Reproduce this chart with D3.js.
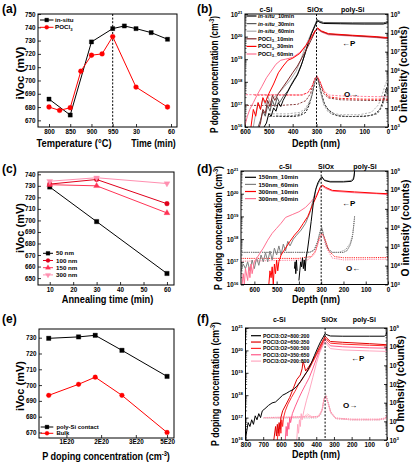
<!DOCTYPE html>
<html><head><meta charset="utf-8">
<script src="https://cdn.jsdelivr.net/npm/d3@7"></script>
<style>
body{margin:0;background:#fff;}
svg{display:block;font-family:"Liberation Sans",Arial,sans-serif;font-weight:bold;}
</style></head><body>
<svg id="c" width="412" height="462"></svg>
<script>
// ---------------- DATA ----------------
// (a)
const aTempTicks = [800, 850, 900, 950];
const aTimeTicks = [30, 60];
const aYTicks = [670, 680, 690, 700, 710, 720, 730, 740, 750];
const aInsituTemps = [800, 850, 900, 950];
const aInsituTempVals = [686, 674, 729, 739];
const aInsituTimes = [20, 30, 43, 57];
const aInsituTimeVals = [741, 739, 736, 731];
const aPoclTemps = [800, 825, 850, 875, 900, 925, 950];
const aPoclTempVals = [680, 677.5, 679.5, 707, 719, 720, 733];
const aPoclTimes = [30, 57];
const aPoclTimeVals = [695, 680];

// (c)
const cTimes = [10, 30, 60];
const cXTicks = [10, 20, 30, 40, 50, 60];
const cYTicks = [650, 660, 670, 680, 690, 700, 710, 720, 730, 740];
const c50 = [729, 699, 654];
const c100 = [731.5, 735.5, 714.5];
const c150 = [731, 730, 706.5];
const c300 = [734, 737, 732];
const cNames = ["50 nm", "100 nm", "150 nm", "300 nm"];

// (e)
const eConc = [0.49e20, 1.35e20, 1.83e20, 2.6e20, 3.9e20];
const ePoly = [729.6, 730.5, 731.5, 722, 705.5];
const eBulk = [693.5, 700.5, 705, 693.5, 670];
const eTickVals = [1e20, 2e20, 3e20, 3.9e20];
const eTickLabels = ["1E20", "2E20", "3E20", "5E20"];
const eYTicks = [670, 680, 690, 700, 710, 720, 730];

// SIMS axes
const pDecades = [1e16, 1e17, 1e18, 1e19, 1e20, 1e21];
const oDecades = [1e3, 1e4, 1e5, 1e6, 1e7, 1e8, 1e9];
const bDepthTicks = [600, 500, 400, 300, 200, 100, 0];
const dDepthTicks = [600, 500, 400, 300, 200, 100, 0];
const fDepthTicks = [800, 700, 600, 500, 400, 300, 200, 100, 0];

// (b) P profiles [depth nm, conc cm-3]
const bInsitu10 = [[0,4.6e20],[5,4e20],[20,3.6e20],[100,3.6e20],[200,3.7e20],[270,3.8e20],[285,4.2e20],[295,5e20],[305,3.2e20],[320,1.4e20],[335,5e19],[350,1.5e19],[365,5e18],[380,2e18],[395,1.1e18],[410,6e17],[425,3e17],[440,1.5e17],[450,8e16],[460,1.2e17],[470,5e16],[480,7e16],[490,3e16],[500,4e16],[510,1.5e16],[520,1e16]];
const bInsitu30 = [[0,5.2e20],[5,4.4e20],[20,4.1e20],[150,4.1e20],[270,4.2e20],[290,5e20],[297,5.8e20],[305,3.6e20],[320,1.5e20],[340,3.5e19],[360,7e18],[380,2.2e18],[400,1e18],[420,4e17],[440,2.2e17],[455,1.2e17],[465,2e17],[475,8e16],[485,1.5e17],[495,5e16],[505,9e16],[515,3e16],[525,5e16],[535,2e16],[545,1e16]];
const bInsitu60 = [[0,4.5e20],[10,3.7e20],[150,3.7e20],[270,3.9e20],[290,4.6e20],[298,5.2e20],[307,3e20],[325,1.2e20],[345,4e19],[365,1e19],[385,3e18],[410,1.2e18],[435,6e17],[460,3e17],[480,2e17],[495,1.2e17],[505,2.5e17],[515,1e17],[525,1.8e17],[535,6e16],[545,1.2e17],[555,4e16],[565,1e16]];
const bPocl10 = [[0,8.5e19],[50,9.5e19],[150,1.1e20],[250,1.3e20],[280,1.7e20],[295,2.3e20],[305,1.8e20],[320,8e19],[340,3e19],[360,1.2e19],[380,5e18],[400,2.5e18],[420,1.2e18],[440,6e17],[460,3e17],[475,1.5e17],[485,2.5e17],[495,8e16],[505,1.5e17],[515,4e16],[525,6e16],[535,1.5e16],[540,1e16]];
const bPocl30 = [[0,9e19],[50,1e20],[150,1.15e20],[250,1.35e20],[280,1.8e20],[295,2.4e20],[305,1.9e20],[320,1e20],[345,4e19],[370,1.8e19],[400,1.1e19],[420,9e18],[440,5e18],[460,2.5e18],[480,8e17],[500,3e17],[515,1.2e17],[525,2e17],[535,6e16],[545,1.2e17],[555,3e16],[565,6e16],[575,1e16]];
const bPocl60 = [[0,8e19],[50,9e19],[150,1.05e20],[250,1.2e20],[280,1.6e20],[295,2.1e20],[305,1.7e20],[320,9e19],[345,4e19],[370,2e19],[400,1.2e19],[430,1e19],[450,9e18],[470,6e18],[490,3e18],[510,1.5e18],[530,6e17],[550,2.5e17],[565,1.2e17],[580,6e16],[590,3e16],[600,1.2e16]];
// (b) O profiles [depth nm, counts]
const bOInsitu10 = [[0,2e5],[10,8e4],[20,2.5e4],[35,8e3],[60,4.5e3],[100,3.6e3],[180,3.6e3],[215,4e3],[235,6e3],[250,8e3],[265,1.5e4],[280,6e4],[292,3e5],[298,4.5e5],[305,3e5],[315,8e4],[330,1.5e4],[345,6e3],[370,4e3],[400,3.6e3],[440,3.6e3],[470,3.8e3]];
const bOInsitu30 = [[0,1.2e5],[10,5e4],[25,1.2e4],[45,5e3],[80,4e3],[150,3.6e3],[200,3.8e3],[240,5e3],[270,2e4],[285,1.2e5],[295,4e5],[300,4.8e5],[308,2.5e5],[320,4e4],[340,1e4],[365,5e3],[400,4e3],[450,3.8e3],[500,3.6e3]];
const bOInsitu60 = [[0,4e5],[10,2e5],[25,5e4],[40,1.5e4],[70,6e3],[120,4.5e3],[200,4.5e3],[250,6e3],[270,1.5e4],[285,8e4],[295,3e5],[300,4e5],[310,2e5],[325,3e4],[345,1e4],[370,6e3],[420,5e3],[500,5e3]];
const bOPocl10 = [[0,2.5e4],[100,2.6e4],[200,2.8e4],[250,3.5e4],[270,6e4],[285,2e5],[295,4e5],[302,4.8e5],[310,3e5],[325,6e4],[345,2.5e4],[380,1.6e4],[450,1.4e4],[600,1.4e4]];
const bOPocl30 = [[0,3e4],[100,3e4],[200,3.3e4],[250,4e4],[270,8e4],[285,2.5e5],[297,5e5],[305,4e5],[318,1.5e5],[335,7e4],[360,5e4],[450,5e4],[560,5e4]];
const bOPocl60 = [[0,4e4],[100,4.2e4],[200,4.5e4],[250,5e4],[270,9e4],[285,2.5e5],[297,5.2e5],[306,4e5],[320,1.3e5],[340,6e4],[370,5e4],[480,5.2e4],[600,5.2e4]];

// (d) P profiles
const d150s10 = [[150,1e21],[152,6e20],[155,4.2e20],[165,3.5e20],[200,3.3e20],[260,3.3e20],[285,3.8e20],[297,5.6e20],[305,4.5e20],[315,3e20],[325,1.5e20],[335,4e19],[345,6e18],[355,1e18],[362,3e17],[368,1.5e17],[372,4e16],[376,1.2e17],[380,5e16],[384,1.5e17],[388,6e16],[392,1e17],[396,4e16],[400,1.5e16],[404,null],[408,4e16],[411,1.2e17],[414,3e16],[417,1e17],[420,5e16]];
const d150s60 = [[150,1e21],[153,6e20],[158,4.3e20],[170,3.7e20],[200,3.5e20],[260,3.5e20],[285,4e20],[297,5.2e20],[305,4e20],[320,2e20],[335,6e19],[350,1.5e19],[370,5e18],[390,2.5e18],[410,1.5e18],[425,1e18],[440,5e17],[450,8e17],[460,3e17],[470,6e17],[480,2e17],[490,5e17],[500,2e17],[510,4e17],[520,1.2e17],[530,3e17],[540,1e17],[550,2.5e17],[560,1e17],[570,2e17],[580,7e16],[590,1.5e17],[600,5e16],[610,1.2e17],[620,4e16],[630,1e17],[640,5e16],[650,8e16],[660,4e16]];
const d300s10 = [[0,1e20],[50,1.05e20],[150,1.2e20],[250,1.4e20],[280,1.9e20],[295,2.4e20],[305,1.9e20],[320,8e19],[340,3e19],[360,1e19],[380,5e18],[400,2.5e18],[420,1.5e18],[440,8e17],[460,4e17],[480,2e17],[490,1e17],[495,4e16],[500,1.2e17],[505,3e16],[510,8e16],[515,1e16],[520,6e16],[525,2e16],[530,4e16],[535,1e16]];
const d300s60 = [[0,9e19],[50,1e20],[150,1.1e20],[250,1.3e20],[280,1.7e20],[295,2.2e20],[305,1.7e20],[320,9e19],[345,4.5e19],[370,2.5e19],[400,1.6e19],[430,1.2e19],[460,9e18],[480,5e18],[500,3e18],[520,1.8e18],[540,9e17],[560,4e17],[580,2e17],[600,1e17],[610,3e16],[615,8e16],[620,2e16],[625,6e16],[630,1.5e16],[640,5e16],[645,1e16],[650,3e16],[655,1e16]];
// (d) O profiles
const dO150s10 = [[150,4e6],[155,1e6],[160,3e5],[170,1.2e5],[185,6e4],[200,5e4],[250,5e4],[270,8e4],[285,2.5e5],[297,9e5],[305,6e5],[315,2e5],[330,7e4],[350,5e4],[660,5e4]];
const dO150s60 = [[150,3e6],[158,5e5],[170,1.5e5],[190,7e4],[220,5e4],[260,5e4],[280,1.2e5],[292,6e5],[298,1.1e6],[306,6e5],[318,1.5e5],[335,6e4],[360,5e4],[660,5e4]];
const dO300s10 = [[0,2.7e4],[100,2.6e4],[200,2.6e4],[240,3e4],[265,6e4],[285,3e5],[297,5e5],[308,3e5],[325,6e4],[345,3e4],[400,2.4e4],[660,2.4e4]];
const dO300s60 = [[0,2.2e4],[200,2e4],[250,2.5e4],[275,8e4],[290,3.5e5],[298,4.5e5],[310,2e5],[330,4e4],[360,2e4],[660,1.7e4]];

// (f) P profiles
const f800 = [[0,7e20],[5,5e20],[15,4.3e20],[100,4.3e20],[250,4.3e20],[320,4.4e20],[340,5e20],[350,5.6e20],[360,4e20],[375,2.5e20],[390,1.4e20],[410,6e19],[430,2.5e19],[450,1.2e19],[470,7e18],[490,4e18],[510,2.5e18],[530,1.8e18],[550,1.5e18],[570,1.2e18],[590,1e18],[610,7e17],[630,5e17],[650,4.5e17],[670,3.5e17],[690,2.5e17],[705,2e17],[715,1e17],[725,1.5e17],[735,8e16],[745,1.2e17],[755,5e16],[765,8e16],[775,4e16],[785,6e16],[795,2e16],[800,1e16]];
const f650 = [[0,2e20],[5,1.8e20],[100,2e20],[250,2.3e20],[320,2.5e20],[340,3.5e20],[350,4.3e20],[360,3e20],[380,1.5e20],[400,7e19],[420,3.5e19],[440,2e19],[460,1.2e19],[470,2.5e19],[475,3e19],[480,1.5e19],[490,8e18],[510,5e18],[530,2e18],[550,8e17],[570,4e17],[590,2e17],[600,1e17],[605,3e16],[610,6e16],[615,2e16],[620,5e16],[625,1.5e16],[630,4e16],[640,1e16]];
const f500 = [[0,1.6e20],[100,1.7e20],[250,1.9e20],[320,2.1e20],[340,3e20],[350,3.6e20],[360,2.6e20],[380,1.2e20],[400,6e19],[420,3e19],[440,1.5e19],[460,9e18],[480,5e18],[500,3e18],[520,1.5e18],[540,8e17],[560,4e17],[575,2e17],[585,1e17],[590,4e16],[595,8e16],[600,2e16],[605,5e16],[610,1.5e16],[615,3e16],[620,1e16]];
const f350 = [[0,1.25e20],[100,1.3e20],[250,1.45e20],[320,1.6e20],[340,2.4e20],[350,3e20],[360,2.2e20],[380,1e20],[400,4e19],[420,1.5e19],[440,6e18],[460,3e18],[480,1.5e18],[500,7e17],[520,3e17],[535,1.5e17],[545,6e16],[550,1e17],[555,3e16],[560,6e16],[565,1.5e16],[570,4e16],[575,1e16]];
const f200 = [[0,9e19],[100,9.5e19],[250,1.05e20],[320,1.2e20],[340,1.9e20],[350,2.4e20],[360,1.8e20],[380,8e19],[400,2.5e19],[420,6e18],[440,1.5e18],[455,6e17],[470,2e17],[480,8e16],[485,1.5e17],[490,4e16],[495,8e16],[500,2e16],[505,5e16],[510,1e16]];
// (f) O profiles
const fO800 = [[0,2e4],[10,1.4e4],[40,1.2e4],[200,1.2e4],[290,1.4e4],[315,2.5e4],[330,8e4],[343,2.6e5],[352,2.2e5],[362,6e4],[375,2.2e4],[400,1.5e4],[700,1.5e4]];
const fO650 = [[0,2.2e4],[10,1.5e4],[40,1.3e4],[200,1.3e4],[290,1.5e4],[318,3e4],[332,1e5],[345,2.3e5],[355,1.8e5],[365,5e4],[380,2e4],[420,1.7e4],[450,2.5e4],[470,1.8e4],[600,1.5e4],[700,1.5e4]];
const fO500 = [[0,1.8e4],[10,1.3e4],[50,1.2e4],[200,1.2e4],[290,1.4e4],[318,3e4],[333,1e5],[346,2.4e5],[356,1.6e5],[366,4e4],[385,1.8e4],[430,1.6e4],[445,2.2e4],[465,1.7e4],[650,1.6e4]];
const fO350 = [[0,2.1e4],[10,1.5e4],[50,1.3e4],[200,1.3e4],[290,1.5e4],[320,3.5e4],[335,1.1e5],[347,2.2e5],[357,1.5e5],[368,4e4],[390,1.8e4],[700,1.6e4]];
const fO200 = [[0,1.9e4],[10,1.4e4],[50,1.2e4],[200,1.2e4],[290,1.4e4],[320,3e4],[335,1e5],[347,2e5],[357,1.4e5],[368,3.5e4],[390,1.7e4],[640,1.6e4]];

// ---------------- DRAW ----------------
const svg = d3.select("#c");
const FONT = '"Liberation Sans", Arial, sans-serif';
const TICKFS = 6.3, TITLEFS = 10.3;

function styleAxis(sel){
  sel.select(".domain").remove();
  sel.selectAll(".tick line").attr("stroke","#000").attr("stroke-width",0.8);
  sel.selectAll(".tick text").attr("font-size",TICKFS).attr("font-family",FONT).attr("font-weight","bold").attr("fill","#000");
}
function frame(L,R,T,B){
  svg.append("rect").attr("x",L).attr("y",T).attr("width",R-L).attr("height",B-T)
    .attr("fill","none").attr("stroke","#000").attr("stroke-width",1);
}
function text(x,y,s,fs,anchor,rot){
  const t = svg.append("text").attr("x",x).attr("y",y).attr("font-size",fs).attr("text-anchor",anchor||"start").attr("fill","#000").text(s);
  if(rot) t.attr("transform",`rotate(${rot},${x},${y})`);
  return t;
}
// title text horizontally condensed to a target length (via transform, stays real text)
function title(x,y,s,rot,len,supText,tail){
  const g = svg.append("g").attr("transform",`translate(${x},${y}) rotate(${rot||0})`);
  const t = g.append("text").attr("x",0).attr("y",0).attr("font-size",TITLEFS).attr("text-anchor","middle").attr("fill","#000");
  t.append("tspan").text(s);
  if(supText){
    t.append("tspan").attr("dy",-3.2).attr("font-size",6.5).text(supText);
    t.append("tspan").attr("dy",3.2).text(tail);
  }
  const w = t.node().getComputedTextLength();
  if(len && w>0) t.attr("transform",`scale(${len/w},1)`);
  return t;
}
function supLabels(sel){
  sel.selectAll(".tick text").each(function(d){
    const t = d3.select(this); t.text(null);
    t.append("tspan").text("10");
    t.append("tspan").attr("dy",-2.4).attr("font-size",4.3).text(Math.round(Math.log10(d)));
  });
}
function marker(g, shape, x, y, color, size){
  const s = size||4.4;
  let sym = {sq:d3.symbolSquare, ci:d3.symbolCircle, tu:d3.symbolTriangle, td:d3.symbolTriangle}[shape];
  const area = shape==="ci" ? Math.PI*(s/2)*(s/2)*1.15 : (shape==="sq" ? s*s : s*s*0.8);
  g.append("path").attr("d", d3.symbol().type(sym).size(area)())
    .attr("transform",`translate(${x},${y})${shape==="td"?" rotate(180)":""}`)
    .attr("fill",color).attr("stroke",color).attr("stroke-width",0.3);
}
function yTitleMV(x, yc, len){ title(x, yc, "iVoc (mV)", -90, len); }
function panelLabel(x,y,s){ text(x,y,s,12,"start"); }
function minorLog(g, scale, decades, xEdge, dir){
  decades.slice(0,-1).forEach(d=>{
    for(let k=2;k<=9;k++){
      const v=d*k, y=scale(v);
      g.append("line").attr("x1",xEdge).attr("x2",xEdge+dir*1.6).attr("y1",y).attr("y2",y).attr("stroke","#000").attr("stroke-width",0.6);
    }
  });
}
function concTitle(x,y,rot,len){ return title(x,y,"P doping concentration (cm",rot,len,"-3",")"); }

// ===== (a) =====
{
  const L=38,R=177,T=14,B=127;
  const xT = d3.scaleLinear().domain([800,950]).range([49,112.7]);
  const xM = d3.scaleLinear().domain([10,60]).range([xT(950),171]);
  const y = d3.scaleLinear().domain([665,750]).range([B,T]);
  const g = svg.append("g");
  styleAxis(g.append("g").attr("transform",`translate(${L},0)`).call(d3.axisLeft(y).tickValues(aYTicks).tickSizeInner(-3).tickSizeOuter(0).tickPadding(2.5)));
  styleAxis(g.append("g").attr("transform",`translate(0,${B})`).call(d3.axisBottom(xT).tickValues(aTempTicks).tickSizeInner(-3).tickSizeOuter(0).tickPadding(3)));
  styleAxis(g.append("g").attr("transform",`translate(0,${B})`).call(d3.axisBottom(xM).tickValues(aTimeTicks).tickSizeInner(-3).tickSizeOuter(0).tickPadding(3)));
  frame(L,R,T,B);
  g.append("line").attr("x1",xT(950)).attr("x2",xT(950)).attr("y1",T).attr("y2",B).attr("stroke","#000").attr("stroke-dasharray","2,1.6").attr("stroke-width",1);
  const ins = aInsituTemps.map((t,i)=>[xT(t), y(aInsituTempVals[i])]).concat(aInsituTimes.map((t,i)=>[xM(t), y(aInsituTimeVals[i])]));
  const poc = aPoclTemps.map((t,i)=>[xT(t), y(aPoclTempVals[i])]).concat(aPoclTimes.map((t,i)=>[xM(t), y(aPoclTimeVals[i])]));
  const line = d3.line();
  g.append("path").attr("d",line(ins)).attr("fill","none").attr("stroke","#000").attr("stroke-width",1);
  g.append("path").attr("d",line(poc)).attr("fill","none").attr("stroke","#ff0000").attr("stroke-width",1);
  ins.forEach(p=>marker(g,"sq",p[0],p[1],"#000",4.2));
  poc.forEach(p=>marker(g,"ci",p[0],p[1],"#ff0000",4.6));
  [["in-situ","#000","sq"],["POCl","#ff0000","ci"]].forEach((e,i)=>{
    const ly = 20 + i*7.3;
    g.append("line").attr("x1",40).attr("x2",53.5).attr("y1",ly).attr("y2",ly).attr("stroke",e[1]).attr("stroke-width",1);
    marker(g,e[2],46.7,ly,e[1],3.8);
    const t = text(55,ly,"",6.2).attr("dy","0.35em");
    t.append("tspan").text(e[0]);
    if(i===1) t.append("tspan").attr("font-size",4.2).attr("dy",1.5).text("3");
  });
  title(74,146.5,"Temperature (°C)",0,75);
  title(153.5,146.5,"Time (min)",0,44.5);
  yTitleMV(23.5,73,53);
  panelLabel(2,12.5,"(a)");
}

// ===== (c) =====
{
  const L=38,R=174,T=172,B=285;
  const x = d3.scaleLinear().domain([5,63]).range([L,R]);
  const y = d3.scaleLinear().domain([644,742]).range([B,T]);
  const g = svg.append("g");
  styleAxis(g.append("g").attr("transform",`translate(${L},0)`).call(d3.axisLeft(y).tickValues(cYTicks).tickSizeInner(-3).tickSizeOuter(0).tickPadding(2.5)));
  styleAxis(g.append("g").attr("transform",`translate(0,${B})`).call(d3.axisBottom(x).tickValues(cXTicks).tickSizeInner(-3).tickSizeOuter(0).tickPadding(3)));
  frame(L,R,T,B);
  const series = [[c50,"#000","sq"],[c100,"#e0001b","ci"],[c150,"#ff3355","tu"],[c300,"#ff8fb0","td"]];
  const line = d3.line().x((d,i)=>x(cTimes[i])).y(d=>y(d));
  series.forEach(s=>{
    g.append("path").attr("d",line(s[0])).attr("fill","none").attr("stroke",s[1]).attr("stroke-width",1);
    s[0].forEach((v,i)=>marker(g,s[2],x(cTimes[i]),y(v),s[1],4.4));
  });
  series.forEach((s,i)=>{
    const ly = 253.3 + i*7.2;
    g.append("line").attr("x1",43).attr("x2",53).attr("y1",ly).attr("y2",ly).attr("stroke",s[1]).attr("stroke-width",1);
    marker(g,s[2],48,ly,s[1],3.8);
    text(56,ly,cNames[i],6.2).attr("dy","0.35em");
  });
  title(107.5,302.5,"Annealing time (min)",0,91.5);
  yTitleMV(23.5,228,50);
  panelLabel(2,172.5,"(c)");
}

// ===== (e) =====
{
  const L=39,R=174,T=329,B=438;
  const x = d3.scaleLinear().domain([0.21e20,4.1e20]).range([L,R]);
  const y = d3.scaleLinear().domain([666.5,735.5]).range([B,T]);
  const g = svg.append("g");
  styleAxis(g.append("g").attr("transform",`translate(${L},0)`).call(d3.axisLeft(y).tickValues(eYTicks).tickSizeInner(-3).tickSizeOuter(0).tickPadding(2.5)));
  styleAxis(g.append("g").attr("transform",`translate(0,${B})`).call(d3.axisBottom(x).tickValues(eTickVals).tickFormat((d,i)=>eTickLabels[i]).tickSizeInner(-3).tickSizeOuter(0).tickPadding(2)));
  frame(L,R,T,B);
  const line = d3.line().x((d,i)=>x(eConc[i])).y(d=>y(d));
  [[ePoly,"#000","sq"],[eBulk,"#ff0000","ci"]].forEach(s=>{
    g.append("path").attr("d",line(s[0])).attr("fill","none").attr("stroke",s[1]).attr("stroke-width",1);
    s[0].forEach((v,i)=>marker(g,s[2],x(eConc[i]),y(v),s[1],4.4));
  });
  [["poly-Si contact","#000","sq"],["Bulk","#ff0000","ci"]].forEach((s,i)=>{
    const ly = 427 + i*6.3;
    g.append("line").attr("x1",40.7).attr("x2",53.3).attr("y1",ly).attr("y2",ly).attr("stroke",s[1]).attr("stroke-width",1);
    marker(g,s[2],47,ly,s[1],3.8);
    text(56.5,ly,s[0],5.9).attr("dy","0.35em");
  });
  concTitle(106,459.5,0,128);
  yTitleMV(23.5,386,50);
  panelLabel(2,322.5,"(e)");
}

// ===== SIMS panels =====
function sims(cfg){
  const {L,R,T,B,dmax,ticks,id} = cfg;
  const x = d3.scaleLinear().domain([dmax,0]).range([L,R]);
  const y = d3.scaleLog().domain([1e16,1e21]).range([B,T]);
  const yr = d3.scaleLog().domain([1e3,1e9]).range([B,T]);
  const g = svg.append("g");
  const ayl = g.append("g").attr("transform",`translate(${L},0)`).call(d3.axisLeft(y).tickValues(pDecades).tickSizeInner(-3).tickSizeOuter(0).tickPadding(2.5));
  styleAxis(ayl); supLabels(ayl);
  const ayr = g.append("g").attr("transform",`translate(${R},0)`).call(d3.axisRight(yr).tickValues(oDecades).tickSizeInner(-3).tickSizeOuter(0).tickPadding(2.5));
  styleAxis(ayr); supLabels(ayr);
  minorLog(g,y,pDecades,L,1);
  minorLog(g,yr,oDecades,R,-1);
  styleAxis(g.append("g").attr("transform",`translate(0,${B})`).call(d3.axisBottom(x).tickValues(ticks).tickSizeInner(-3).tickSizeOuter(0).tickPadding(3)));
  svg.append("clipPath").attr("id","clip"+id).append("rect").attr("x",L).attr("y",T).attr("width",R-L).attr("height",B-T);
  const pl = g.append("g").attr("clip-path",`url(#clip${id})`);
  const lineO = d3.line().x(d=>x(d[0])).y(d=>yr(d[1]));
  cfg.O.forEach(s=>{
    pl.append("path").attr("d",lineO(s.d)).attr("fill","none").attr("stroke",s.c).attr("stroke-width",0.9).attr("stroke-dasharray",cfg.odash);
  });
  const lineP = d3.line().defined(d=>d[1]!=null).x(d=>x(d[0])).y(d=>y(d[1]));
  cfg.P.forEach(s=>{
    pl.append("path").attr("d",lineP(s.d)).attr("fill","none").attr("stroke",s.c).attr("stroke-width",s.w||1);
  });
  frame(L,R,T,B);
  g.append("line").attr("x1",x(cfg.ox)).attr("x2",x(cfg.ox)).attr("y1",T).attr("y2",B).attr("stroke","#000").attr("stroke-dasharray","2,1.6").attr("stroke-width",1);
  return {x,y,yr,g};
}
function simsTitles(cx, by, lx, rx, yc, len){
  title(cx,by,"Depth (nm)",0,48);
  concTitle(lx,yc,-90,len||124);
  title(rx,yc,"O intensity (counts)",-90,97);
}
function regionLabels(xs, y){
  ["c-Si","SiOx","poly-Si"].forEach((s,i)=>text(xs[i],y,s,7,"middle"));
}

// (b)
{
  const insC = ["#000","#5a5a5a","#aaaaaa"], pocC = ["#7a2626","#ff0000","#ff7090"];
  const P = [{d:bInsitu60,c:insC[2]},{d:bInsitu30,c:insC[1]},{d:bInsitu10,c:insC[0]},{d:bPocl60,c:pocC[2]},{d:bPocl10,c:pocC[0]},{d:bPocl30,c:pocC[1]}];
  const O = [{d:bOInsitu10,c:insC[0]},{d:bOInsitu30,c:insC[1]},{d:bOInsitu60,c:insC[2]},{d:bOPocl10,c:pocC[0]},{d:bOPocl30,c:pocC[1]},{d:bOPocl60,c:pocC[2]}];
  const s = sims({L:245,R:388,T:14,B:127,dmax:600,ticks:bDepthTicks,id:"b",P,O,odash:"2.2,1.4",ox:300});
  const names = [["in-situ","_10min"],["in-situ","_30min"],["in-situ","_60min"],["POCl","_10min"],["POCl","_30min"],["POCl","_60min"]];
  const cols = insC.concat(pocC);
  names.forEach((n,i)=>{
    const ly = 16 + i*7.6;
    s.g.append("line").attr("x1",246.5).attr("x2",256.5).attr("y1",ly).attr("y2",ly).attr("stroke",cols[i]).attr("stroke-width",1.2);
    const t = text(258,ly,"",5.6).attr("dy","0.35em");
    if(i<3){ t.append("tspan").attr("font-style","italic").text(n[0]); t.append("tspan").text(n[1]); }
    else { t.append("tspan").text(n[0]); t.append("tspan").attr("font-size",4).attr("dy",1.3).text("3"); t.append("tspan").attr("dy",-1.3).text(n[1]); }
  });
  regionLabels([266,315,352.7],12);
  text(342,46,"\u2190P",8,"start");
  text(344,97,"O\u2192",8,"start");
  simsTitles(316,146.5,217.5,406.5,74.5,117);
  panelLabel(197,12.5,"(b)");
}

// (d)
{
  const cols = ["#000","#808080","#ff0000","#ff7090"];
  const P = [{d:d150s60,c:cols[1]},{d:d300s60,c:cols[3]},{d:d300s10,c:cols[2]},{d:d150s10,c:cols[0]}];
  const O = [{d:dO150s10,c:"#333"},{d:dO150s60,c:"#888"},{d:dO300s10,c:cols[2]},{d:dO300s60,c:cols[3]}];
  const s = sims({L:241,R:388,T:171,B:284.5,dmax:660,ticks:dDepthTicks,id:"d",P,O,odash:"1.2,1",ox:300});
  ["150nm_10min","150nm_60min","300nm_10min","300nm_60min"].forEach((n,i)=>{
    const ly = 177.3 + i*7.1;
    s.g.append("line").attr("x1",245).attr("x2",256).attr("y1",ly).attr("y2",ly).attr("stroke",cols[i]).attr("stroke-width",1.2);
    text(258.5,ly,n,6).attr("dy","0.35em");
  });
  regionLabels([285.3,326,365],169);
  text(342,205.5,"\u2190P",8,"start");
  text(346,270.5,"O\u2190",8,"start");
  simsTitles(316,303,221.5,408.5,228);
  panelLabel(197,172.5,"(d)");
}

// (f)
{
  const cols = ["#000","#e00000","#ff2a2a","#ff5a8a","#ffa8c0"];
  const P = [{d:f200,c:cols[4]},{d:f350,c:cols[3]},{d:f500,c:cols[2]},{d:f650,c:cols[1]},{d:f800,c:cols[0]}];
  const O = [{d:fO800,c:"#bbbbbb"},{d:fO650,c:"#ff9fb0"},{d:fO500,c:"#ff8fa8"},{d:fO350,c:"#ff7fa0"},{d:fO200,c:"#ffb0c4"}];
  const s = sims({L:245.5,R:387,T:328,B:440,dmax:800,ticks:fDepthTicks,id:"f",P,O,odash:"1.2,1",ox:350});
  ["POCl3:O2=800:200","POCl3:O2=650:350","POCl3:O2=500:500","POCl3:O2=350:650","POCl3:O2=200:800"].forEach((n,i)=>{
    const ly = 335.7 + i*6.35;
    s.g.append("line").attr("x1",251).attr("x2",261).attr("y1",ly).attr("y2",ly).attr("stroke",cols[i]).attr("stroke-width",1.2);
    text(263,ly,n,5.2).attr("dy","0.35em");
  });
  regionLabels([279.3,329.3,364.3],322);
  text(351,361,"\u2190P",8,"start");
  text(343,408,"O\u2192",8,"start");
  simsTitles(316,457.5,218.5,403.5,384);
  panelLabel(197,322.5,"(f)");
}
</script>
</body></html>
